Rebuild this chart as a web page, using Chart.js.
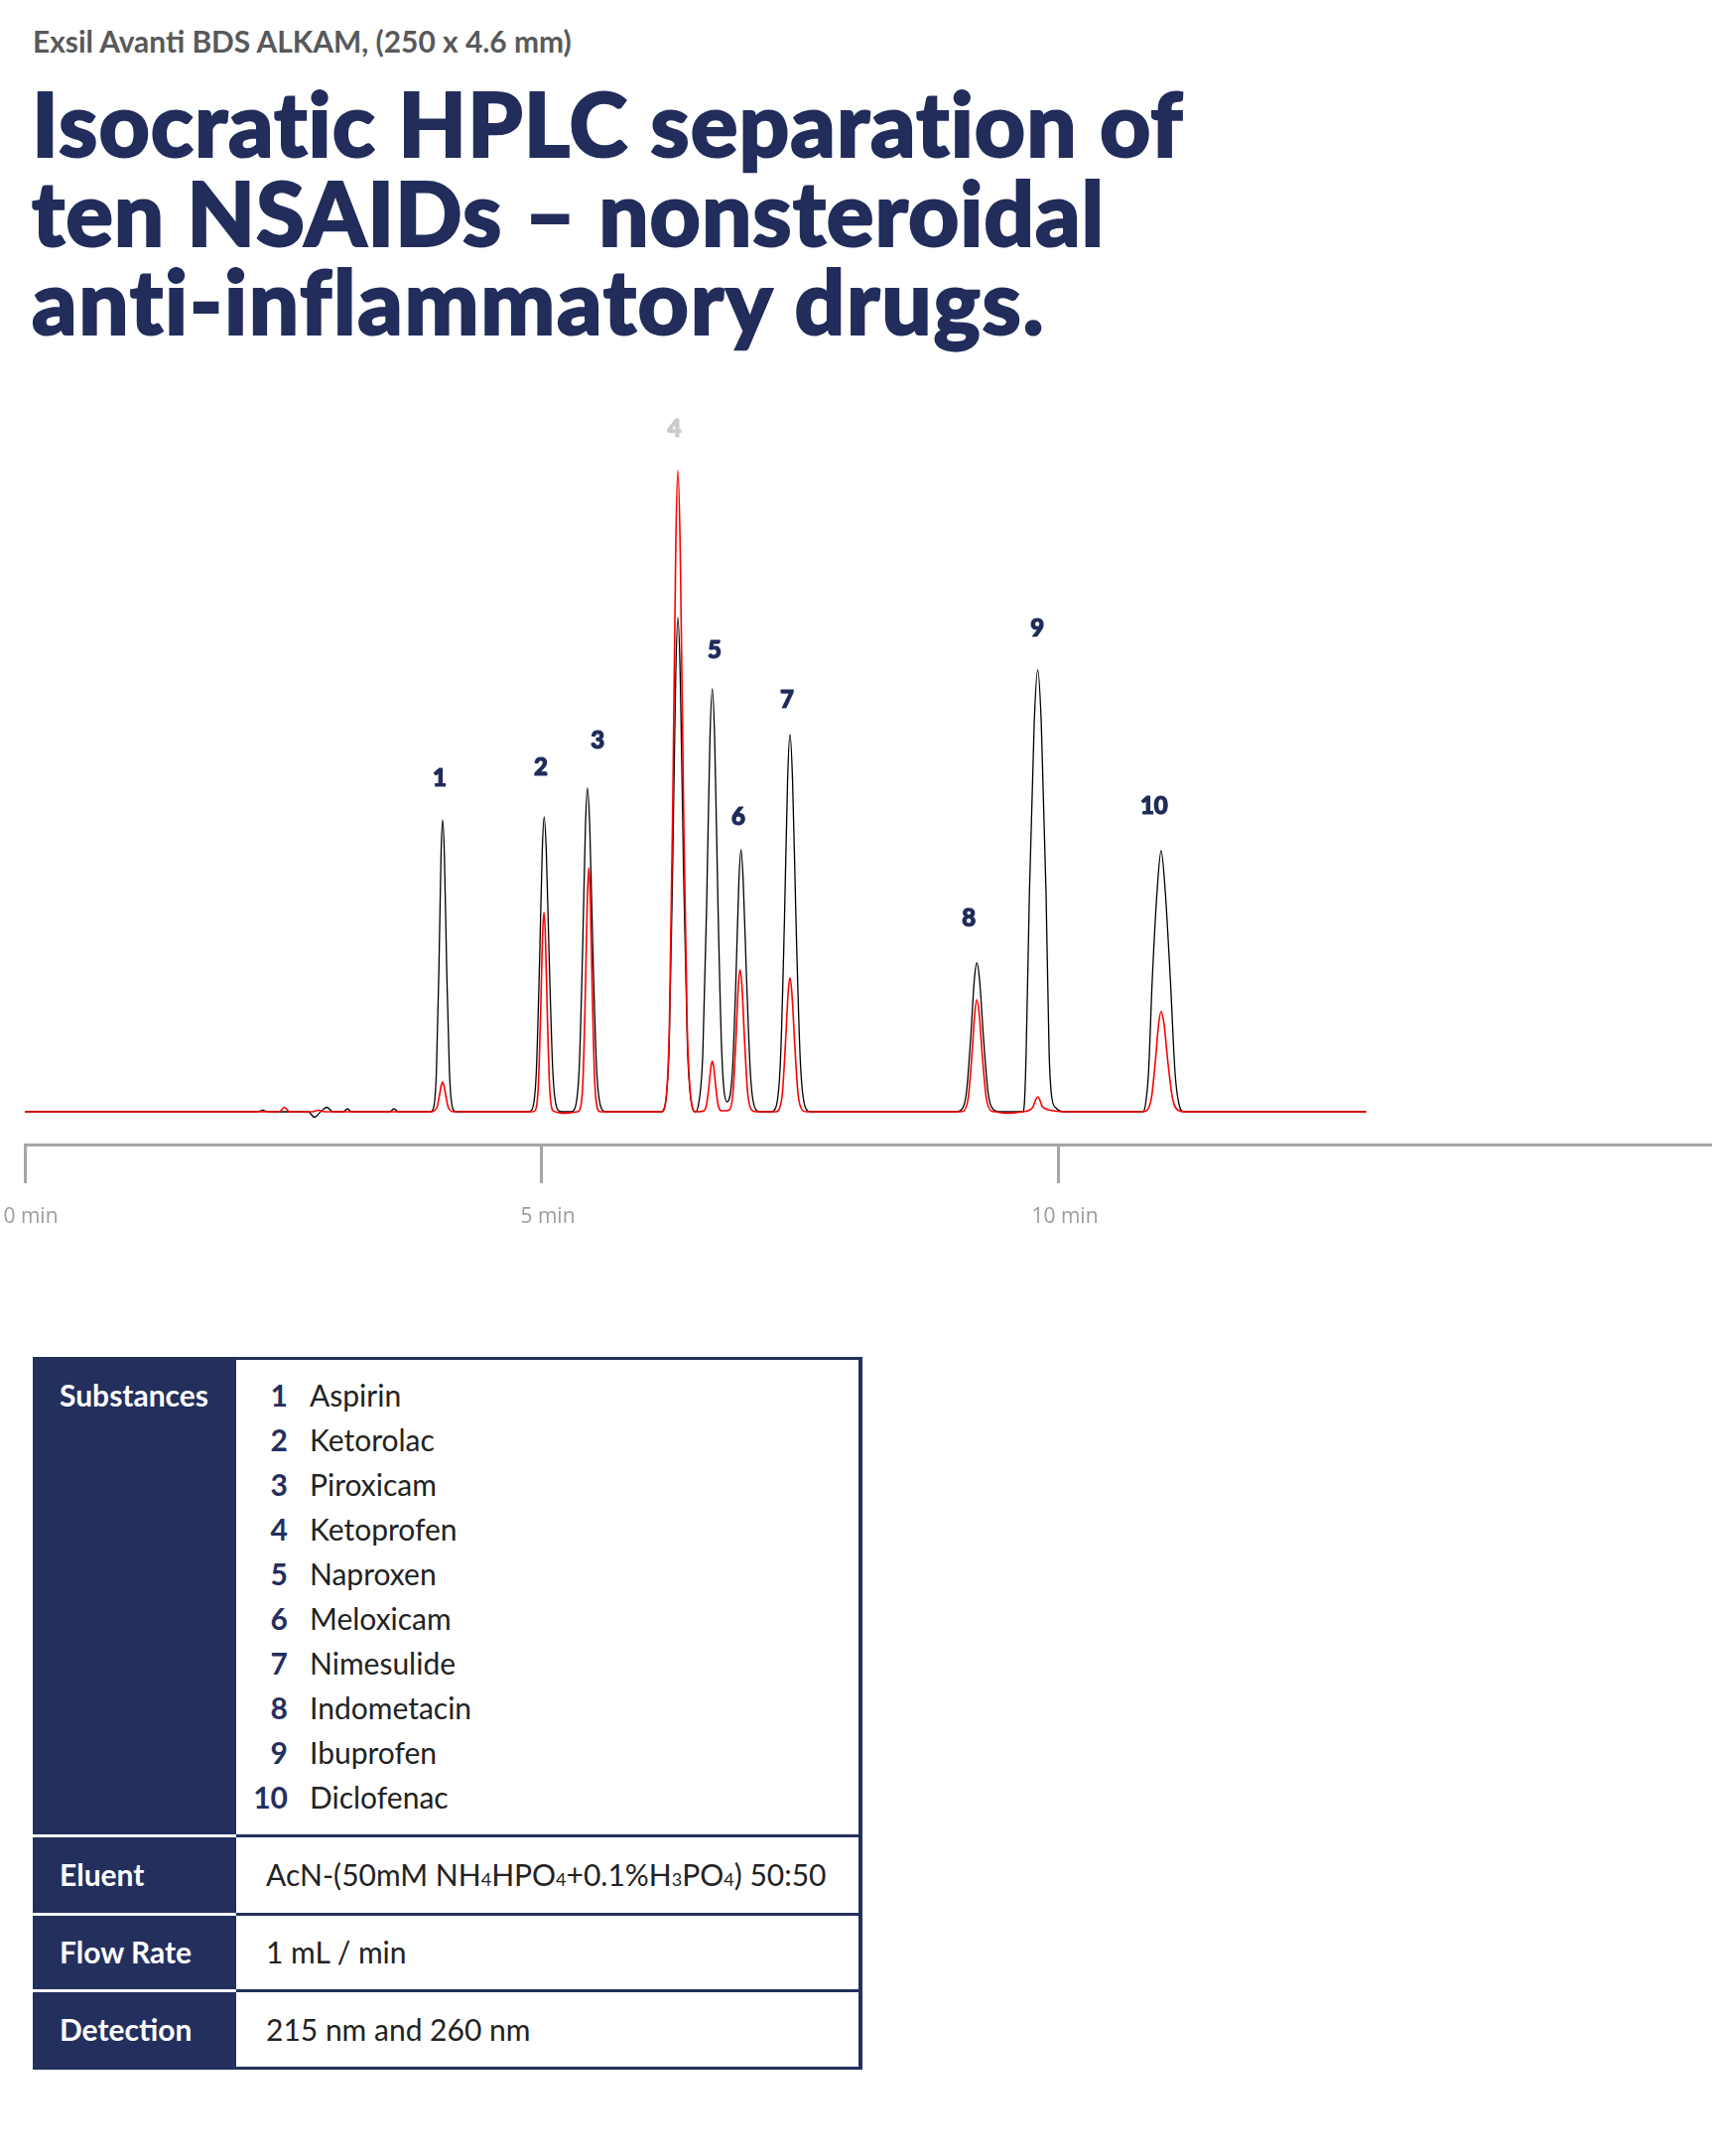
<!DOCTYPE html>
<html>
<head>
<meta charset="utf-8">
<script src="https://cdn.jsdelivr.net/npm/chart.js@4/dist/chart.umd.min.js"></script>
<style>
html,body{margin:0;padding:0;background:#fff;}
body{width:1725px;height:2172px;position:relative;overflow:hidden;font-family:Lato,"Noto Sans",sans-serif;}
.sub{position:absolute;left:33px;top:27px;font-size:29.9px;line-height:29.5px;font-weight:700;color:#58595b;white-space:nowrap;}
.title{position:absolute;left:32px;top:79px;font-size:89px;line-height:89.5px;font-weight:900;color:#222d5b;white-space:nowrap;-webkit-text-stroke:2px #222d5b;}
.l1{letter-spacing:1.05px;}
.l2{letter-spacing:0.95px;}
.l3{letter-spacing:1.7px;}
#chartBox{position:absolute;left:0;top:400px;width:1725px;height:860px;}
#tbl{position:absolute;left:33px;top:1367px;width:836px;height:718px;background:#232f5d;}
.cell{position:absolute;background:#fff;}
.sep{position:absolute;left:0;width:205px;height:3px;background:#fff;}
.t{position:absolute;font-size:30px;line-height:30px;white-space:nowrap;color:#222;}
.lab{color:#fff;font-weight:700;left:60px;}
.num{color:#232f5d;font-weight:700;left:237px;width:53px;text-align:right;}
.nm{left:312px;}
.val{left:268px;}
.s{font-size:18px;}
</style>
</head>
<body>
<div class="sub">Exsil Avanti BDS ALKAM, (250 x 4.6 mm)</div>
<div class="title"><span class="l1">Isocrat&zwnj;ic HPLC separat&zwnj;ion of</span><br><span class="l2">ten NSAIDs – nonsteroidal</span><br><span class="l3">ant&zwnj;i-inflammatory drugs.</span></div>
<div id="chartBox"><canvas id="c"></canvas></div>

<div id="tbl">
  <div class="cell" style="left:205px;top:3px;width:627px;height:478px;"></div>
  <div class="cell" style="left:205px;top:484px;width:627px;height:76px;"></div>
  <div class="cell" style="left:205px;top:563px;width:627px;height:74px;"></div>
  <div class="cell" style="left:205px;top:640px;width:627px;height:75px;"></div>
  <div class="sep" style="top:481px;"></div>
  <div class="sep" style="top:560px;"></div>
  <div class="sep" style="top:637px;"></div>
</div>
<div id="tblText"></div>

<script>
// ---- data ----
// time axis in minutes, signal in arbitrary absorbance units
const axisTicks = [0, 5, 10];

// black trace [time, signal]
const blackTrace = [
  [0,0],[2.25,0],[2.30,1.5],[2.35,0],[2.74,0],[2.80,-5.5],[2.86,0],[2.92,4.5],[2.98,0],
  [3.08,0],[3.12,3],[3.16,0],[3.53,0],[3.57,3],[3.61,0],
  [3.920,0],[3.950,3],[3.980,40],[4.005,147],[4.025,259],[4.040,294],[4.057,259],[4.079,147],[4.106,40],[4.139,3],[4.172,0],
  [4.870,0],[4.908,3],[4.946,40],[4.977,149],[5.003,261],[5.022,297],[5.043,261],[5.072,149],[5.106,40],[5.148,3],[5.190,0],
  [5.281,0],[5.321,4],[5.361,44],[5.394,163],[5.421,287],[5.441,326],[5.463,287],[5.493,163],[5.529,44],[5.573,4],[5.617,0],
  [6.160,0],[6.189,5],[6.231,67],[6.265,249],[6.294,438],[6.315,498],[6.338,438],[6.369,249],[6.407,67],[6.453,5],[6.485,0],
  [6.510,5],[6.556,58],[6.594,213],[6.625,375],[6.648,426],[6.671,375],[6.702,213],[6.740,58],[6.790,10],
  [6.842,40],[6.876,132],[6.905,232],[6.926,264],[6.947,232],[6.980,132],[7.018,36],[7.064,3],[7.110,0],
  [7.215,0],[7.261,4],[7.307,51],[7.345,190],[7.376,334],[7.399,380],[7.424,334],[7.458,190],[7.499,51],[7.549,4],[7.599,0],
  [9.006,0],[9.056,2],[9.106,20],[9.147,75],[9.181,132],[9.206,150],[9.233,132],[9.270,75],[9.314,20],[9.368,2],[9.422,0],
  [9.650,0],[9.668,12],[9.683,60],[9.715,222],[9.761,392],[9.795,445],[9.829,392],[9.875,222],[9.905,60],[9.930,15],[9.970,4],[10.05,0],
  [10.810,0],[10.835,6],[10.866,39],[10.902,132],[10.951,225],[10.988,263],[11.026,225],[11.078,132],[11.123,39],[11.160,8],[11.210,0],
  [12.97,0]
];

// red trace [time, signal]
const redTrace = [
  [0,0],[2.46,0],[2.51,4.5],[2.56,0],[2.78,0],[2.84,1.5],[2.90,0],
  [3.93,0],[3.984,4],[4.007,15],[4.026,26],[4.040,30],[4.054,26],[4.073,15],[4.096,4],[4.15,0],
  [4.912,0],[4.939,2],[4.966,27],[4.988,100],[5.006,177],[5.020,201],[5.034,177],[5.052,100],[5.074,27],[5.101,2],[5.130,0],[5.20,-1.5],[5.28,-1],
  [5.342,0],[5.370,3],[5.398,33],[5.421,123],[5.440,216],[5.454,246],[5.468,216],[5.487,123],[5.510,33],[5.538,3],[5.566,0],
  [6.150,0],[6.192,7],[6.233,87],[6.267,323],[6.2945,568],[6.315,646],[6.3375,568],[6.368,323],[6.405,87],[6.450,7],[6.485,0],
  [6.560,0.6],[6.592,7],[6.615,25.5],[6.634,45],[6.648,51],[6.662,45],[6.681,25.5],[6.704,7],[6.735,1],[6.775,1],
  [6.814,2],[6.848,19],[6.876,72],[6.899,126],[6.916,143],[6.935,126],[6.960,72],[6.990,19],[7.027,2],[7.070,0],
  [7.260,0],[7.288,1.5],[7.325,18],[7.355,68],[7.381,119],[7.399,135],[7.418,119],[7.445,68],[7.477,18],[7.520,1.5],[7.560,0],
  [9.042,0],[9.083,1.2],[9.124,15],[9.158,56.5],[9.186,99],[9.206,113],[9.2285,99],[9.259,56.5],[9.296,15],[9.341,1.2],[9.386,0],[9.48,-1.5],[9.58,-1],
  [9.65,0],[9.70,1],[9.75,5],[9.775,12],[9.795,15],[9.815,12],[9.835,6],[9.87,3],[9.95,1],[10.05,0],
  [10.800,0],[10.847,1.1],[10.894,13.6],[10.932,50.5],[10.9645,89],[10.988,101],[11.0155,89],[11.053,50.5],[11.098,13.6],[11.153,1.5],[11.22,0],
  [12.97,0]
];

// peak labels: number, anchor time (min), anchor signal level
const peakNumbers = [1, 2, 3, 4, 5, 6, 7, 8, 9, 10];
const labelTimes  = [4.01, 4.99, 5.54, 6.28, 6.67, 6.90, 7.37, 9.13, 9.79, 10.92];
const labelLevels = [336, 347, 374, 688, 465, 297, 415, 195, 487, 308];

// table content
const substances = ["Aspirin","Ketorolac","Piroxicam","Ketoprofen","Naproxen","Meloxicam","Nimesulide","Indometacin","Ibuprofen","Diclofenac"];
const paramNames = ["Eluent", "Flow Rate", "Detection"];
const paramValues = [
  'AcN-(50mM NH<span class="s">4</span>HPO<span class="s">4</span>+0.1%H<span class="s">3</span>PO<span class="s">4</span>) 50:50',
  '1 mL / min',
  '215 nm and 260 nm'
];

// ---- table text ----
(function(){
  const box = document.getElementById('tblText');
  let h = '<div class="t lab" style="top:1390px;">Substances</div>';
  substances.forEach((s,i)=>{
    const top = 1390 + 45*i;
    h += '<div class="t num" style="top:'+top+'px;">'+peakNumbers[i]+'</div>';
    h += '<div class="t nm" style="top:'+top+'px;">'+s+'</div>';
  });
  const tops = [1873, 1951, 2029];
  paramNames.forEach((p,i)=>{
    h += '<div class="t lab" style="top:'+tops[i]+'px;">'+p+'</div>';
    h += '<div class="t val" style="top:'+tops[i]+'px;">'+paramValues[i]+'</div>';
  });
  box.innerHTML = h;
})();

// ---- chart ----
const peakLabelPlugin = {
  id: 'peakLabels',
  afterDatasetsDraw(chart){
    const {ctx, scales:{x, y}} = chart;
    ctx.save();
    ctx.font = '900 24px Lato, "Noto Sans", sans-serif';
    ctx.textAlign = 'center';
    ctx.textBaseline = 'middle';
    ctx.lineWidth = 1.2;
    ctx.lineJoin = 'round';
    peakNumbers.forEach((n, i) => {
      const c = (n === 4) ? '#cacaca' : '#1f2b5a';
      const px = x.getPixelForValue(labelTimes[i]);
      const py = y.getPixelForValue(labelLevels[i]);
      ctx.fillStyle = c; ctx.strokeStyle = c;
      ctx.fillText(String(n), px, py);
      ctx.strokeText(String(n), px, py);
    });
    ctx.restore();
  }
};

const toXY = arr => arr.map(([x, y]) => ({x, y}));

new Chart(document.getElementById('c'), {
  type: 'line',
  data: {
    datasets: [
      {label:'red', data: toXY(redTrace), borderColor:'#ff0000', borderWidth:1.6,
       pointRadius:0, fill:false, cubicInterpolationMode:'monotone'},
      {label:'black', data: toXY(blackTrace), borderColor:'#000000', borderWidth:1.3,
       pointRadius:0, fill:false, cubicInterpolationMode:'monotone'}
    ]
  },
  options: {
    responsive: true,
    maintainAspectRatio: false,
    animation: false,
    events: [],
    layout: {padding: {left: 25, right: 0, top: 0, bottom: 0}},
    plugins: {legend: {display: false}, tooltip: {enabled: false}},
    scales: {
      x: {
        type: 'linear', min: 0, max: 16.315,
        afterBuildTicks: s => { s.ticks = axisTicks.map(v => ({value: v})); },
        afterFit: s => { s.height = 107; s.paddingLeft = 0; s.paddingRight = 0; },
        grid: {drawOnChartArea: false, drawTicks: true, tickLength: 39, color: '#a6a6a6', lineWidth: 3},
        border: {display: true, color: '#a6a6a6', width: 3},
        ticks: {
          callback: v => v + ' min',
          font: {family: 'Open Sans', size: 21},
          color: '#9c9c9c',
          padding: 21,
          labelOffset: 6,
          maxRotation: 0,
          autoSkip: false
        }
      },
      y: {display: false, min: -33, max: 720}
    }
  },
  plugins: [peakLabelPlugin]
});
</script>
</body>
</html>
